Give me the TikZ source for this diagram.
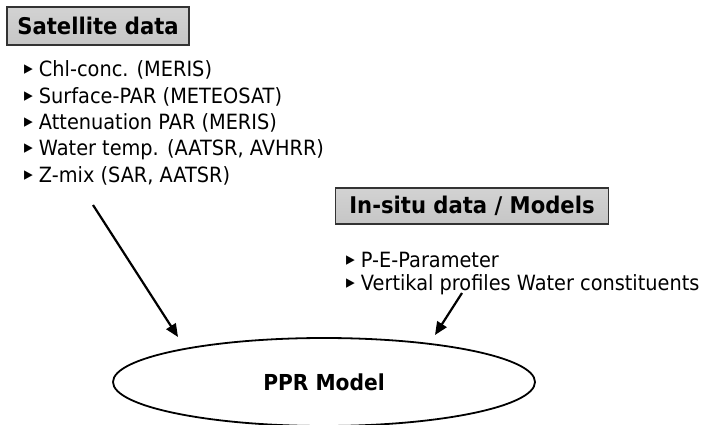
\documentclass[tikz,border=0pt]{standalone}
\usepackage{fontspec}
\setmainfont{DejaVu Sans}[FakeStretch=0.92]
\usetikzlibrary{shapes.geometric,arrows.meta}
\newcommand\mybul{\raisebox{2.5pt}{\fontsize{19}{21}\selectfont ▸}\hspace{6pt}}
\begin{document}
\begin{tikzpicture}[x=1pt,y=-1pt,
  titlebox/.style={draw=black!80, line width=1.2pt, top color=gray!35, bottom color=gray!45,
    font=\fontsize{23}{26}\selectfont\bfseries, inner sep=0pt},
  item/.style={anchor=west, font=\fontsize{21}{24}\selectfont, inner sep=0pt},
  arr/.style={line width=2.2pt, -{Triangle[length=13pt,width=11pt]}},
  model/.style={ellipse, draw, line width=1.8pt, minimum width=422pt, minimum height=88pt,
    font=\fontsize{22}{25}\selectfont\bfseries}]
\useasboundingbox (0,0) rectangle (723,425);
\node[titlebox, minimum width=182pt, minimum height=38pt] (sat) at (98,26) {Satellite data};
\node[item] (s1) at (24,70) {\mybul Chl-conc. (MERIS)};
\node[item] (s2) at (24,97) {\mybul Surface-PAR (METEOSAT)};
\node[item] (s3) at (24,123) {\mybul Attenuation PAR (MERIS)};
\node[item] (s4) at (24,150) {\mybul Water temp. (AATSR, AVHRR)};
\node[item] (s5) at (24,176) {\mybul Z-mix (SAR, AATSR)};
\node[titlebox, minimum width=273pt, minimum height=36pt] (ins) at (472,206) {In-situ data / Models};
\node[item] (i1) at (346,260) {\mybul P-E-Parameter};
\node[item] (i2) at (346,285) {\mybul Vertikal profiles Water constituents};
\node[model] (ppr) at (324,382) {PPR Model};
\coordinate (a1s) at (93,205);
\coordinate (a1e) at (178,337);
\coordinate (a2s) at (462,293);
\coordinate (a2e) at (435,335);
\draw[arr] (a1s) -- (a1e);
\draw[arr] (a2s) -- (a2e);
\end{tikzpicture}
\end{document}
